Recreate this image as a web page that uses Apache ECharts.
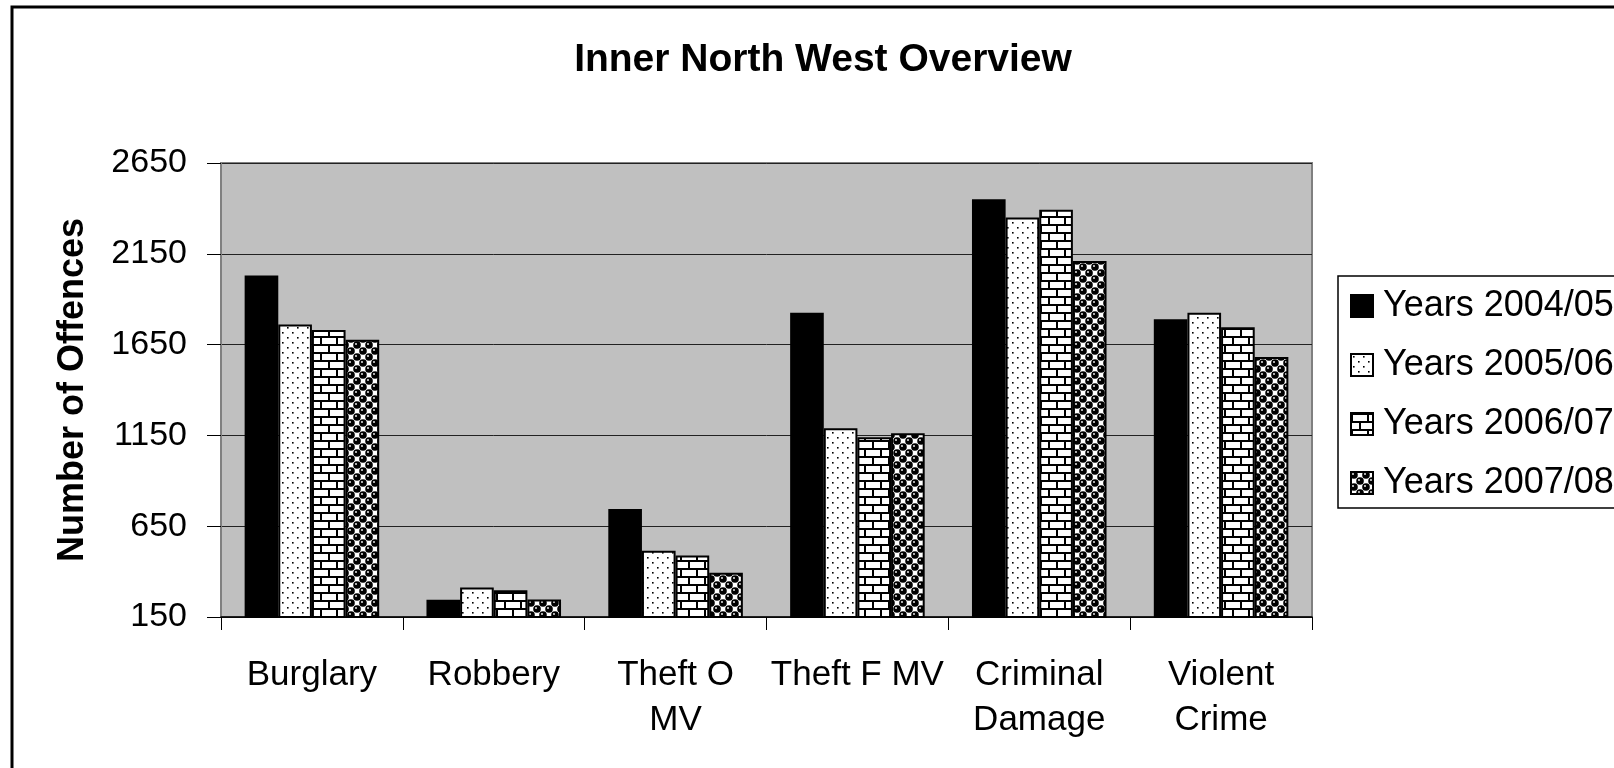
<!DOCTYPE html>
<html>
<head>
<meta charset="utf-8">
<title>Inner North West Overview</title>
<script src="https://cdn.jsdelivr.net/npm/echarts@6/dist/echarts.min.js"></script>
<style>
  html, body { margin: 0; padding: 0; background: #fff; }
  #chart { width: 1614px; height: 768px; }
</style>
</head>
<body>
<div id="chart"></div>
<script>
// data
const categories = ['Burglary', 'Robbery', 'Theft O\nMV', 'Theft F MV', 'Criminal\nDamage', 'Violent\nCrime'];
const seriesNames = ['Years 2004/05', 'Years 2005/06', 'Years 2006/07', 'Years 2007/08'];
const y2004 = [2030, 245, 745, 1825, 2450, 1790];
const y2005 = [1760, 312, 515, 1190, 2350, 1825];
const y2006 = [1730, 297, 488, 1140, 2393, 1745];
const y2007 = [1677, 246, 394, 1162, 2110, 1582];
const yTicks = { min: 150, max: 2650, step: 500 };

const FONT = '"Liberation Sans", Arial, sans-serif';

// small canvas tiles for the hatch fills
function makeTile(w, h, draw) {
  const c = document.createElement('canvas');
  c.width = w;
  c.height = h;
  const ctx = c.getContext('2d');
  ctx.fillStyle = '#fff';
  ctx.fillRect(0, 0, w, h);
  ctx.fillStyle = '#000';
  draw(ctx);
  return { image: c, repeat: 'repeat' };
}

const dots = makeTile(10, 10, ctx => {
  ctx.fillRect(2, 2, 1.6, 1.6);
  ctx.fillRect(7, 7, 1.6, 1.6);
});

const bricks = makeTile(16, 16, ctx => {
  ctx.fillRect(0, 0, 16, 2);
  ctx.fillRect(0, 8, 16, 2);
  ctx.fillRect(0, 0, 2, 8);
  ctx.fillRect(8, 8, 2, 8);
});

const balls = makeTile(12, 12, ctx => {
  [[3, 3], [9, 9], [-3, 9], [15, 3], [3, 15], [9, -3]].forEach(([x, y]) => {
    ctx.beginPath();
    ctx.arc(x, y, 3.8, 0, Math.PI * 2);
    ctx.fill();
  });
  ctx.fillStyle = '#fff';
  [[2, 2], [8, 8]].forEach(([x, y]) => {
    ctx.beginPath();
    ctx.arc(x, y, 0.9, 0, Math.PI * 2);
    ctx.fill();
  });
});

const fills = ['#000', dots, bricks, balls];
const values = [y2004, y2005, y2006, y2007];

const chart = echarts.init(document.getElementById('chart'));

const option = {
  animation: false,
  backgroundColor: '#fff',
  textStyle: { fontFamily: FONT, color: '#000' },
  title: {
    text: 'Inner North West Overview',
    left: 818,
    top: 36,
    textAlign: 'center',
    textStyle: { fontFamily: FONT, fontSize: 39, fontWeight: 'bold', color: '#000' }
  },
  graphic: [{
    type: 'rect',
    silent: true,
    shape: { x: 12, y: 7, width: 1800, height: 900 },
    style: { fill: 'none', stroke: '#000', lineWidth: 3 }
  }],
  legend: {
    orient: 'vertical',
    left: 1338,
    top: 276,
    padding: [12, 500, 7, 12],
    itemWidth: 22,
    itemHeight: 22,
    itemGap: 23,
    icon: 'rect',
    backgroundColor: '#fff',
    borderColor: '#000',
    borderWidth: 1.5,
    data: seriesNames,
    textStyle: { fontFamily: FONT, fontSize: 36, lineHeight: 35, color: '#000', padding: [0, 0, 0, 5] }
  },
  grid: {
    left: 221,
    top: 163,
    right: 302,
    bottom: 151,
    show: true,
    backgroundColor: '#c0c0c0',
    borderColor: '#808080',
    borderWidth: 2
  },
  xAxis: {
    type: 'category',
    data: categories,
    axisLine: { lineStyle: { color: '#000', width: 1.5 } },
    axisTick: { show: true, length: 13, lineStyle: { color: '#000' } },
    axisLabel: {
      interval: 0,
      margin: 36,
      fontFamily: FONT,
      fontSize: 35,
      lineHeight: 45,
      color: '#000'
    }
  },
  yAxis: {
    type: 'value',
    min: yTicks.min,
    max: yTicks.max,
    interval: yTicks.step,
    name: 'Number of Offences',
    nameLocation: 'middle',
    nameGap: 130,
    nameTextStyle: { fontFamily: FONT, fontSize: 36, fontWeight: 'bold', color: '#000' },
    axisLine: { show: true, lineStyle: { color: '#808080', width: 2 } },
    axisTick: { show: true, length: 14, lineStyle: { color: '#000' } },
    axisLabel: {
      margin: 34,
      fontFamily: FONT,
      fontSize: 34,
      color: '#000',
      formatter: v => String(v)
    },
    splitLine: { show: true, lineStyle: { color: '#222', width: 1 } }
  },
  series: seriesNames.map((name, i) => ({
    name: name,
    type: 'bar',
    data: values[i],
    barGap: '0%',
    barCategoryGap: '26%',
    itemStyle: { color: fills[i], borderColor: '#000', borderWidth: 2 }
  }))
};

chart.setOption(option);
</script>
</body>
</html>
